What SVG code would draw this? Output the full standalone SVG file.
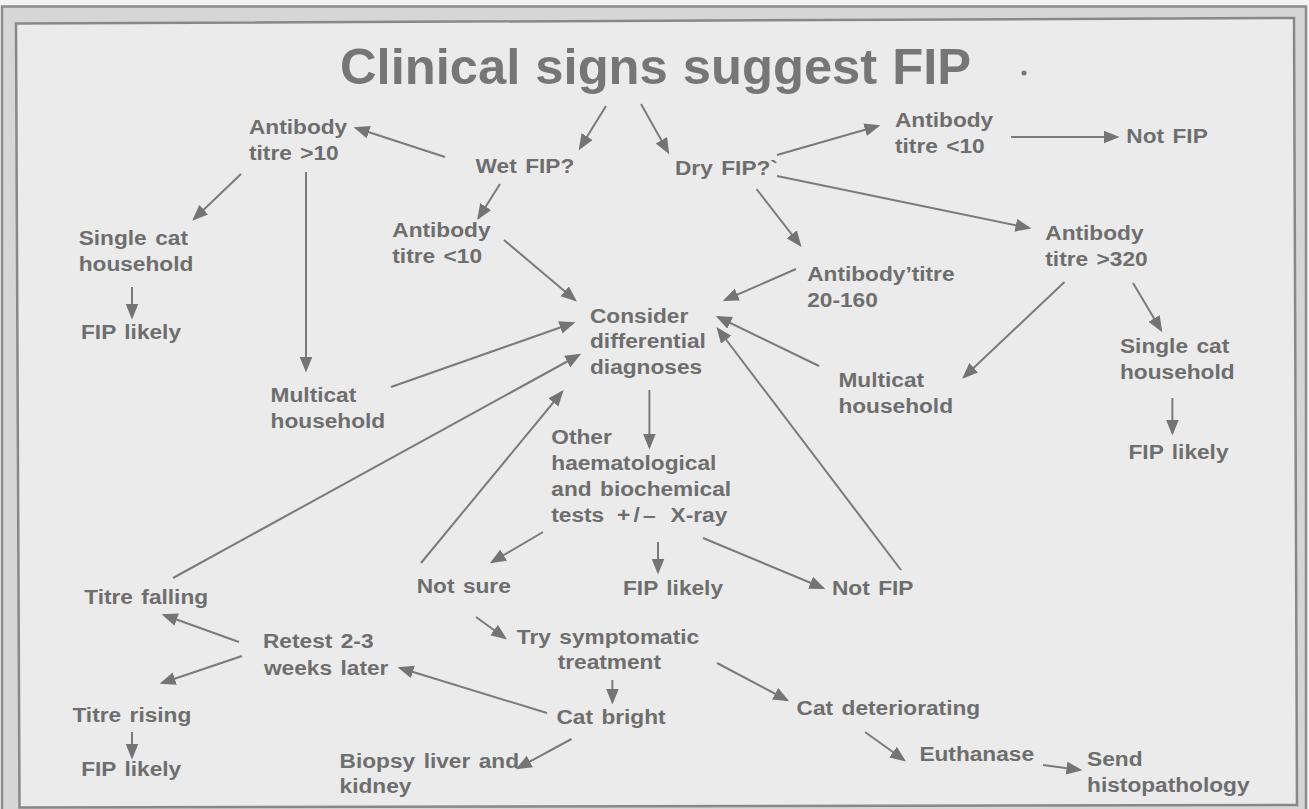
<svg xmlns="http://www.w3.org/2000/svg" width="1309" height="809" viewBox="0 0 1309 809">
<defs>
<style>
.t { font-family: "Liberation Sans", Arial, sans-serif; font-weight: bold; font-size: 21px; fill: #6e6e6e; word-spacing: 2px; }
.title { font-family: "Liberation Sans", Arial, sans-serif; font-weight: bold; font-size: 50.7px; fill: #767676; word-spacing: 1px; }
.c { stroke: #7a7a7a; stroke-width: 2; fill: none; marker-end: url(#ah); }
</style>
<marker id="ah" markerUnits="userSpaceOnUse" markerWidth="17" markerHeight="14" refX="13.5" refY="6.5" orient="auto">
<path d="M0,0 L16,6.5 L0,13 Z" fill="#747474"/>
</marker>
</defs>
<rect x="0" y="0" width="1309" height="809" fill="#f3f3f3"/>
<rect x="2" y="6.5" width="1304" height="805" fill="#d6d6d6" stroke="#8c8c8c" stroke-width="2.5"/>
<polygon points="16,23.5 1294,18 1297,805 19.5,807.5" fill="#ebebeb" stroke="#888888" stroke-width="2.5"/>

<g id="title">
<text class="title" x="340" y="84">Clinical signs suggest FIP</text>
<circle cx="1024" cy="73" r="2.5" fill="#767676"/>
</g>

<g id="connectors">
<path class="c" d="M606,106 L580,148"/>
<path class="c" d="M641,104 L668,152"/>
<path class="c" d="M445,157 L356,128"/>
<path class="c" d="M241,174 L194,219"/>
<path class="c" d="M306,172 L306,370"/>
<path class="c" d="M132,287 L132,317"/>
<path class="c" d="M500,184 L478.5,218"/>
<path class="c" d="M504,240 L575,300"/>
<path class="c" d="M391,387 L573,323"/>
<path class="c" d="M173,578 L579,355"/>
<path class="c" d="M421,563 L562,392"/>
<path class="c" d="M649.4,390 L649.4,447"/>
<path class="c" d="M777,155 L878,126"/>
<path class="c" d="M1011,137 L1117,137"/>
<path class="c" d="M777,176 L1029,228"/>
<path class="c" d="M756.5,189 L800,245"/>
<path class="c" d="M796,269 L725,300"/>
<path class="c" d="M819,366 L718,317"/>
<path class="c" d="M901,570 L718,329"/>
<path class="c" d="M1064.5,282 L964,377"/>
<path class="c" d="M1133,283 L1161,330"/>
<path class="c" d="M1172.4,398 L1172.4,433"/>
<path class="c" d="M543,532 L492,562"/>
<path class="c" d="M658,542 L658,572"/>
<path class="c" d="M703,538 L823,588"/>
<path class="c" d="M476,617 L505,638"/>
<path class="c" d="M239,642 L164,615"/>
<path class="c" d="M242,656 L162,683"/>
<path class="c" d="M547,713 L400,668"/>
<path class="c" d="M612.4,680 L612.4,702"/>
<path class="c" d="M132,732 L132,757"/>
<path class="c" d="M571.5,739 L518,768"/>
<path class="c" d="M717,663 L787,700"/>
<path class="c" d="M865,732 L904,760"/>
<path class="c" d="M1043,765 L1080,770"/>
</g>

<g id="wet-fip"><text class="t" transform="translate(475.6 173.3) scale(1.08 1)">Wet FIP?</text></g>
<g id="dry-fip"><text class="t" transform="translate(675 175) scale(1.08 1)">Dry FIP?`</text></g>
<g id="ab-gt10"><text class="t" transform="translate(249 134) scale(1.08 1)"><tspan x="0" y="0">Antibody</tspan><tspan x="0" y="26">titre &gt;10</tspan></text></g>
<g id="single-cat-left"><text class="t" transform="translate(78.7 245) scale(1.08 1)"><tspan x="0" y="0">Single cat</tspan><tspan x="0" y="25.7">household</tspan></text></g>
<g id="fip-likely-left"><text class="t" transform="translate(81 339.3) scale(1.08 1)">FIP likely</text></g>
<g id="multicat-left"><text class="t" transform="translate(270.6 402) scale(1.08 1)"><tspan x="0" y="0">Multicat</tspan><tspan x="0" y="26.3">household</tspan></text></g>
<g id="ab-lt10-left"><text class="t" transform="translate(392.3 237.3) scale(1.08 1)"><tspan x="0" y="0">Antibody</tspan><tspan x="0" y="26">titre &lt;10</tspan></text></g>
<g id="consider"><text class="t" transform="translate(590 322.7) scale(1.08 1)"><tspan x="0" y="0">Consider</tspan><tspan x="0" y="25.6">differential</tspan><tspan x="0" y="51.3">diagnoses</tspan></text></g>
<g id="ab-lt10-right"><text class="t" transform="translate(895 126.7) scale(1.08 1)"><tspan x="0" y="0">Antibody</tspan><tspan x="0" y="26">titre &lt;10</tspan></text></g>
<g id="not-fip-top"><text class="t" transform="translate(1126.3 143.3) scale(1.08 1)">Not FIP</text></g>
<g id="ab-gt320"><text class="t" transform="translate(1045.3 240) scale(1.08 1)"><tspan x="0" y="0">Antibody</tspan><tspan x="0" y="26">titre &gt;320</tspan></text></g>
<g id="ab-20-160"><text class="t" transform="translate(807.2 281) scale(1.08 1)"><tspan x="0" y="0">Antibody’titre</tspan><tspan x="0" y="25.7">20-160</tspan></text></g>
<g id="multicat-right"><text class="t" transform="translate(838.4 386.7) scale(1.08 1)"><tspan x="0" y="0">Multicat</tspan><tspan x="0" y="26">household</tspan></text></g>
<g id="single-cat-right"><text class="t" transform="translate(1120 353.3) scale(1.08 1)"><tspan x="0" y="0">Single cat</tspan><tspan x="0" y="26">household</tspan></text></g>
<g id="fip-likely-right"><text class="t" transform="translate(1128.5 459.3) scale(1.08 1)">FIP likely</text></g>
<g id="other-tests"><text class="t" transform="translate(551.3 444) scale(1.08 1)"><tspan x="0" y="0">Other</tspan><tspan x="0" y="26">haematological</tspan><tspan x="0" y="52">and biochemical</tspan><tspan x="0" y="77.7">tests <tspan dx="4">+</tspan><tspan dx="3">/</tspan><tspan dx="3">–</tspan> <tspan dx="6">X-ray</tspan></tspan></text></g>
<g id="not-sure"><text class="t" transform="translate(416.7 592.7) scale(1.08 1)">Not sure</text></g>
<g id="fip-likely-mid"><text class="t" transform="translate(623 595) scale(1.08 1)">FIP likely</text></g>
<g id="not-fip-mid"><text class="t" transform="translate(832 595) scale(1.08 1)">Not FIP</text></g>
<g id="titre-falling"><text class="t" transform="translate(84.2 604) scale(1.08 1)">Titre falling</text></g>
<g id="try-symptomatic"><text class="t" transform="translate(516.8 644) scale(1.08 1)"><tspan x="0" y="0">Try symptomatic</tspan><tspan x="37.9" y="25.3">treatment</tspan></text></g>
<g id="retest"><text class="t" transform="translate(263 648.3) scale(1.08 1)"><tspan x="0" y="0">Retest 2-3</tspan><tspan x="0.9" y="26.7">weeks later</tspan></text></g>
<g id="cat-bright"><text class="t" transform="translate(556.4 724) scale(1.08 1)">Cat bright</text></g>
<g id="cat-deteriorating"><text class="t" transform="translate(796.6 715) scale(1.08 1)">Cat deteriorating</text></g>
<g id="titre-rising"><text class="t" transform="translate(72.4 721.7) scale(1.08 1)">Titre rising</text></g>
<g id="fip-likely-bottom"><text class="t" transform="translate(81.2 776) scale(1.08 1)">FIP likely</text></g>
<g id="biopsy"><text class="t" transform="translate(339.6 768.3) scale(1.08 1)"><tspan x="0" y="0">Biopsy liver and</tspan><tspan x="0" y="25">kidney</tspan></text></g>
<g id="euthanase"><text class="t" transform="translate(919.4 760.7) scale(1.08 1)">Euthanase</text></g>
<g id="send"><text class="t" transform="translate(1087.1 766) scale(1.08 1)"><tspan x="0" y="0">Send</tspan><tspan x="0" y="25.7">histopathology</tspan></text></g>
</svg>
